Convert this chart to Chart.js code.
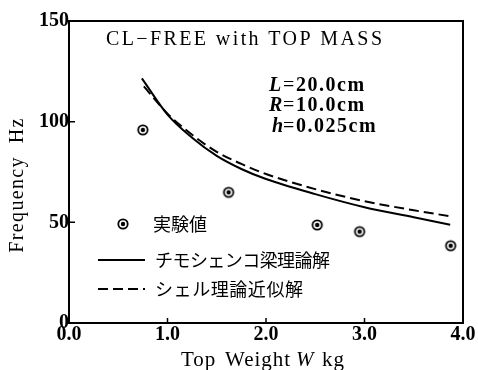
<!DOCTYPE html>
<html>
<head>
<meta charset="utf-8">
<script src="https://cdn.jsdelivr.net/npm/chart.js@4.4.1/dist/chart.umd.min.js"></script>
<style>
  html, body { margin: 0; padding: 0; background: #fff; }
  #wrap { width: 478px; height: 370px; }
</style>
</head>
<body>
<div id="wrap"><canvas id="chart" width="478" height="370"></canvas></div>
<script>
// measured points (実験値)
const weightExp = [0.75, 1.62, 2.52, 2.95, 3.875];
const freqExp = [95.9, 64.9, 48.7, 45.4, 38.4];

// Timoshenko beam theory (solid)
const weightBeam = [0.74, 1.0, 1.25, 1.5, 1.75, 2.0, 2.5, 3.0, 3.5, 3.87];
const freqBeam = [121.5, 103.5, 92, 83, 76.5, 71.5, 64, 57.5, 52.5, 48.8];

// shell theory approximation (dashed)
const weightShell = [0.76, 1.0, 1.25, 1.5, 1.75, 2.0, 2.5, 3.0, 3.5, 3.87];
const freqShell = [117.5, 104, 93.5, 85, 79, 74, 66.5, 60.5, 56, 53];

const xTicks = [0, 1, 2, 3, 4];
const yTicks = [0, 50, 100, 150];

const SERIF = '"Liberation Serif", "Times New Roman", serif';
const CJK = '"Noto Sans CJK JP", sans-serif';

// ⊙ marker
function makeMarker() {
  const c = document.createElement('canvas');
  c.width = 14; c.height = 14;
  const g = c.getContext('2d');
  g.strokeStyle = '#000';
  g.lineWidth = 1.8;
  g.beginPath(); g.arc(7, 7, 4.7, 0, Math.PI * 2); g.stroke();
  g.fillStyle = '#000';
  g.beginPath(); g.arc(7, 7, 2.2, 0, Math.PI * 2); g.fill();
  return c;
}
const marker = makeMarker();

const pts = (xs, ys) => xs.map((x, i) => ({ x: x, y: ys[i] }));

// draw text stretched to a given width by letter spacing
function spaced(ctx, text, x, y, width) {
  ctx.letterSpacing = '0px';
  const w = ctx.measureText(text).width;
  const n = [...text].length;
  const sp = width && n > 1 ? (width - w) / (n - 1) : 0;
  ctx.letterSpacing = sp + 'px';
  ctx.fillText(text, x, y);
  ctx.letterSpacing = '0px';
}

const decor = {
  id: 'decor',
  afterDraw(chart) {
    const ctx = chart.ctx;
    const a = chart.chartArea;
    const xs = chart.scales.x, ys = chart.scales.y;
    ctx.save();
    ctx.strokeStyle = '#000';
    ctx.fillStyle = '#000';

    // frame
    ctx.lineWidth = 2;
    ctx.strokeRect(a.left, a.top, a.right - a.left, a.bottom - a.top);

    // inner ticks
    ctx.lineWidth = 1.5;
    ctx.beginPath();
    [1, 2, 3].forEach(v => {
      const p = xs.getPixelForValue(v);
      ctx.moveTo(p, a.bottom); ctx.lineTo(p, a.bottom - 5);
    });
    [50, 100].forEach(v => {
      const p = ys.getPixelForValue(v);
      ctx.moveTo(a.left, p); ctx.lineTo(a.left + 6, p);
    });
    ctx.stroke();

    ctx.textBaseline = 'middle';
    ctx.textAlign = 'left';

    // heading
    ctx.font = '20px ' + SERIF;
    spaced(ctx, 'CL\u2212FREE with TOP MASS', 106, 40, 276);

    // parameters
    const rows = [['L', '20.0cm', 86], ['R', '10.0cm', 106], ['h', '0.025cm', 127]];
    rows.forEach(r => {
      ctx.font = 'italic bold 20px ' + SERIF;
      ctx.fillText(r[0], r[0] === 'h' ? 272 : 269, r[2]);
      ctx.font = '20px ' + SERIF;
      ctx.fillText('=', 283, r[2]);
      ctx.font = 'bold 20px ' + SERIF;
      ctx.letterSpacing = '1.5px';
      ctx.fillText(r[1], 296, r[2]);
      ctx.letterSpacing = '0px';
    });

    // legend
    ctx.drawImage(marker, 123 - 7, 224 - 7);
    ctx.font = '18px ' + CJK;
    ctx.fillText('実験値', 153, 224);
    ctx.lineWidth = 2;
    ctx.beginPath(); ctx.moveTo(98, 260); ctx.lineTo(145, 260); ctx.stroke();
    spaced(ctx, 'チモシェンコ梁理論解', 155, 260, 175);
    ctx.setLineDash([10, 5]);
    ctx.beginPath(); ctx.moveTo(98, 289); ctx.lineTo(145, 289); ctx.stroke();
    ctx.setLineDash([]);
    spaced(ctx, 'シェル理論近似解', 155, 289, 148);

    // x axis title
    ctx.font = '21px ' + SERIF;
    ctx.letterSpacing = '1px';
    ctx.fillText('Top', 181, 360);
    ctx.fillText('Weight', 225, 360);
    ctx.font = 'italic 21px ' + SERIF;
    ctx.fillText('W', 296, 360);
    ctx.font = '21px ' + SERIF;
    ctx.fillText('kg', 322, 360);
    ctx.letterSpacing = '0px';

    // y axis title
    ctx.translate(18, 185);
    ctx.rotate(-Math.PI / 2);
    ctx.textAlign = 'center';
    ctx.font = '20px ' + SERIF;
    spaced(ctx, 'Frequency  Hz', 0, 0, 134);
    ctx.restore();
  }
};

const tickFont = { family: SERIF, size: 20, weight: 'bold' };

new Chart(document.getElementById('chart'), {
  type: 'scatter',
  data: {
    datasets: [
      {
        label: '実験値',
        data: pts(weightExp, freqExp),
        pointStyle: marker,
        pointRadius: 7,
        showLine: false,
      },
      {
        label: 'チモシェンコ梁理論解',
        data: pts(weightBeam, freqBeam),
        showLine: true,
        borderColor: '#000',
        borderWidth: 2,
        pointRadius: 0,
        cubicInterpolationMode: 'monotone',
      },
      {
        label: 'シェル理論近似解',
        data: pts(weightShell, freqShell),
        showLine: true,
        borderColor: '#000',
        borderWidth: 2,
        borderDash: [10, 5],
        pointRadius: 0,
        cubicInterpolationMode: 'monotone',
      },
    ],
  },
  options: {
    responsive: false,
    animation: false,
    devicePixelRatio: 1,
    layout: { padding: { top: 21, right: 15, left: 0, bottom: 0 } },
    plugins: { legend: { display: false }, tooltip: { enabled: false } },
    scales: {
      x: {
        type: 'linear',
        min: 0, max: 4,
        afterBuildTicks: s => { s.ticks = xTicks.map(v => ({ value: v })); },
        afterFit: s => { s.height = 47; },
        ticks: { color: '#000', font: tickFont, padding: 0, maxRotation: 0, callback: v => v.toFixed(1) },
        grid: { display: false, drawTicks: false },
        border: { display: false },
      },
      y: {
        min: 0, max: 150,
        afterBuildTicks: s => { s.ticks = yTicks.map(v => ({ value: v })); },
        afterFit: s => { s.width = 69; },
        ticks: { color: '#000', font: tickFont, padding: 0 },
        grid: { display: false, drawTicks: false },
        border: { display: false },
      },
    },
  },
  plugins: [decor],
});
</script>
</body>
</html>
